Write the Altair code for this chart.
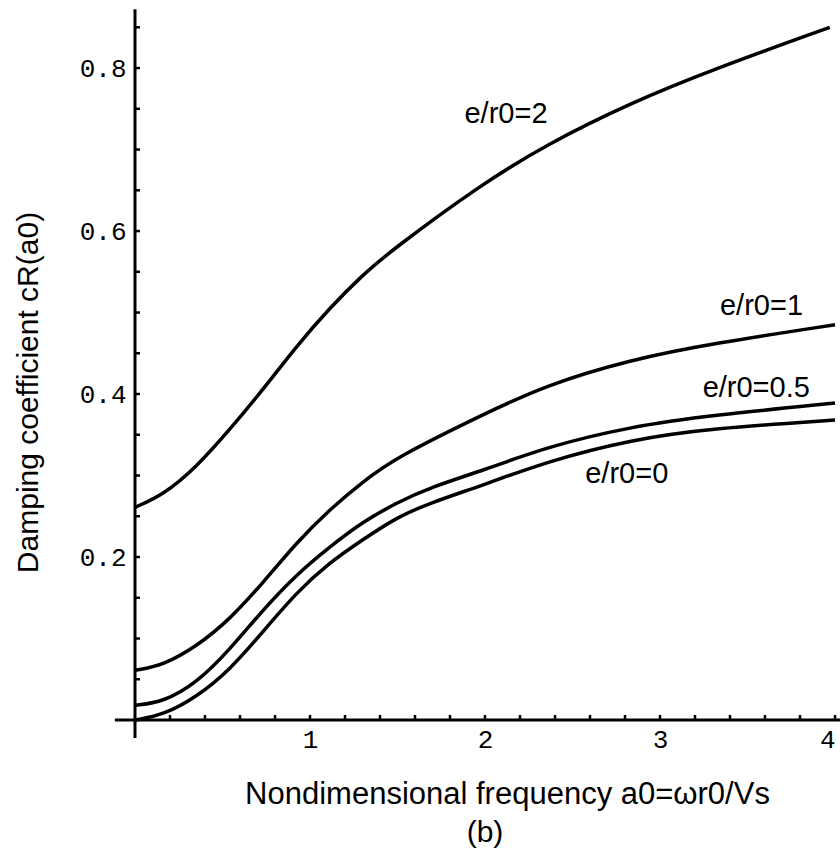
import altair as alt
import pandas as pd

# ---- data ----
a_2 = [0.0, 0.16, 0.35, 0.54, 0.73, 0.92, 1.11, 1.30, 1.47, 1.97, 2.35, 2.83, 3.30, 3.97]
c_2 = [0.261, 0.276, 0.310, 0.356, 0.405, 0.458, 0.505, 0.546, 0.577, 0.656, 0.706, 0.757, 0.798, 0.850]

a_1 = [0.0, 0.16, 0.35, 0.54, 0.73, 0.92, 1.11, 1.30, 1.49, 2.00, 2.35, 2.83, 3.30, 4.0]
c_1 = [0.061, 0.067, 0.090, 0.123, 0.168, 0.217, 0.258, 0.292, 0.322, 0.376, 0.411, 0.442, 0.462, 0.485]

a_05 = [0.0, 0.16, 0.35, 0.54, 0.73, 0.92, 1.11, 1.30, 1.49, 1.68, 2.00, 2.35, 2.83, 3.30, 4.0]
c_05 = [0.018, 0.022, 0.045, 0.086, 0.135, 0.178, 0.212, 0.243, 0.266, 0.285, 0.307, 0.335, 0.360, 0.374, 0.389]

a_0 = [0.0, 0.16, 0.35, 0.54, 0.73, 0.92, 1.11, 1.30, 1.49, 1.68, 2.00, 2.35, 2.83, 3.30, 4.0]
c_0 = [0.0, 0.006, 0.028, 0.061, 0.108, 0.156, 0.193, 0.221, 0.248, 0.266, 0.289, 0.317, 0.344, 0.358, 0.368]

series_names = ["e/r0=2", "e/r0=1", "e/r0=0.5", "e/r0=0"]

# curve labels (text, anchor in data units)
label_text = ["e/r0=2", "e/r0=1", "e/r0=0.5", "e/r0=0"]
label_a = [2.12, 3.58, 3.55, 2.81]
label_c = [0.733, 0.497, 0.396, 0.291]

x_ticks = [1, 2, 3, 4]
y_ticks = [0.2, 0.4, 0.6, 0.8]
x_minor = [round(0.2 * i, 2) for i in range(1, 21)]
y_minor = [round(0.05 * i, 2) for i in range(1, 18)]

# ---- build tables ----
rows = []
for name, xs, ys in zip(series_names, [a_2, a_1, a_05, a_0], [c_2, c_1, c_05, c_0]):
    for x, y in zip(xs, ys):
        rows.append({"series": name, "a": x, "c": y})
df = pd.DataFrame(rows)
labels_df = pd.DataFrame({"t": label_text, "a": label_a, "c": label_c})

X_DOM = [0, 4]
Y_DOM = [0, 0.87]

xs = alt.Scale(domain=X_DOM, nice=False, zero=False)
ys = alt.Scale(domain=Y_DOM, nice=False, zero=False)

x_axis = alt.Axis(
    values=x_ticks, format="d", domain=False, ticks=False, grid=False,
    labelFont="Liberation Mono", labelFontSize=26, labelColor="black",
    labelPadding=6, labelBaseline="top",
    title="Nondimensional frequency a0=ωr0/Vs", titleFont="Liberation Sans",
    titleFontSize=31, titleFontWeight="normal", titleColor="black",
    titleX=372, titleY=83, titleAlign="center", titleBaseline="alphabetic",
)
y_axis = alt.Axis(
    values=y_ticks, format=".1f", domain=False, ticks=False, grid=False,
    labelFont="Liberation Mono", labelFontSize=26, labelColor="black",
    labelPadding=9,
    title="Damping coefficient cR(a0)", titleFont="Liberation Sans",
    titleFontSize=30, titleFontWeight="normal", titleColor="black",
    titleAngle=-90, titleX=-98, titleY=381, titleAlign="center",
    titleBaseline="alphabetic",
)

lines = alt.Chart(df).mark_line(
    color="black", strokeWidth=3.5, interpolate="basis"
).encode(
    x=alt.X("a:Q", scale=xs, axis=x_axis),
    y=alt.Y("c:Q", scale=ys, axis=y_axis),
    detail="series:N",
)

# axis lines crossing at the origin
xline = alt.Chart(pd.DataFrame({"x0": [-0.115], "x1": [4.03], "y0": [0.0]})).mark_rule(
    color="black", strokeWidth=3
).encode(x=alt.X("x0:Q", scale=xs), x2="x1:Q", y=alt.Y("y0:Q", scale=ys))

yline = alt.Chart(pd.DataFrame({"y0": [-0.022], "y1": [0.872], "x0": [0.0]})).mark_rule(
    color="black", strokeWidth=3
).encode(y=alt.Y("y0:Q", scale=ys), y2="y1:Q", x=alt.X("x0:Q", scale=xs))

# inward tick marks
xt = alt.Chart(pd.DataFrame({"t": x_minor})).mark_rule(
    color="black", strokeWidth=2.5, y2Offset=-5
).encode(x=alt.X("t:Q", scale=xs), y=alt.datum(0), y2=alt.datum(0))

yt = alt.Chart(pd.DataFrame({"t": y_minor})).mark_rule(
    color="black", strokeWidth=2.5, x2Offset=5
).encode(y=alt.Y("t:Q", scale=ys), x=alt.datum(0), x2=alt.datum(0))

texts = alt.Chart(labels_df).mark_text(
    font="Liberation Sans", fontSize=29, color="black", align="center",
    baseline="alphabetic"
).encode(x=alt.X("a:Q", scale=xs), y=alt.Y("c:Q", scale=ys), text="t:N")

sub = alt.Chart(pd.DataFrame({"t": ["(b)"]})).mark_text(
    font="Liberation Sans", fontSize=30, color="black", align="center",
    baseline="alphabetic"
).encode(x=alt.datum(2), y=alt.value(831), text="t:N")

chart = alt.layer(lines, xline, yline, xt, yt, texts, sub).properties(
    width=700, height=709,
    padding={"left": 135, "top": 11, "right": 5, "bottom": 138},
    autosize="none",
    background="white",
).configure_view(stroke=None)

chart.save("out.html", embed_options={"renderer": "svg", "actions": False})
